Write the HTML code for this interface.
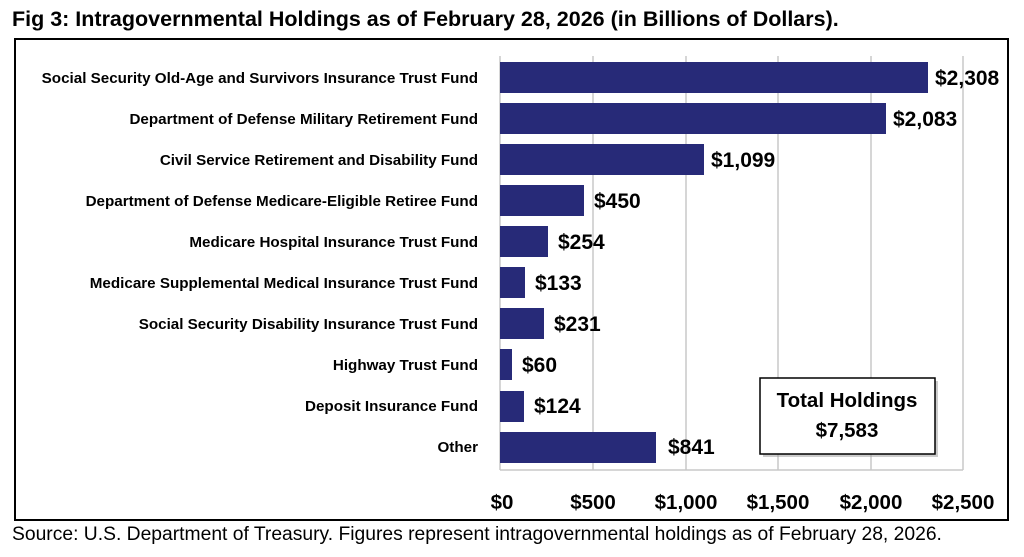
<!DOCTYPE html>
<html><head><meta charset="utf-8"><style>
body{margin:0;width:1024px;height:557px;background:#fff;overflow:hidden;font-family:"Liberation Sans",sans-serif}
</style></head><body>
<svg width="1024" height="557" xmlns="http://www.w3.org/2000/svg" style="position:absolute;left:0;top:0">
<text x="12" y="26" font-family="Liberation Sans" font-weight="bold" font-size="21.5" fill="#000">Fig 3: Intragovernmental Holdings as of February 28, 2026 (in Billions of Dollars).</text>
<rect x="15" y="39" width="993" height="481" fill="none" stroke="#000" stroke-width="2"/>
<g stroke="#c8c8c8" stroke-width="1.5">
<line x1="593" y1="56" x2="593" y2="470"/><line x1="686" y1="56" x2="686" y2="470"/>
<line x1="778" y1="56" x2="778" y2="470"/><line x1="871" y1="56" x2="871" y2="470"/>
<line x1="963" y1="56" x2="963" y2="470"/>
<line x1="500" y1="56" x2="500" y2="470"/><line x1="500" y1="470" x2="963" y2="470"/>
</g>
<g fill="#272a78">
<rect x="500" y="62" width="428" height="31"/>
<rect x="500" y="103" width="386" height="31"/>
<rect x="500" y="144" width="204" height="31"/>
<rect x="500" y="185" width="84" height="31"/>
<rect x="500" y="226" width="48" height="31"/>
<rect x="500" y="267" width="25" height="31"/>
<rect x="500" y="308" width="44" height="31"/>
<rect x="500" y="349" width="12" height="31"/>
<rect x="500" y="391" width="24" height="31"/>
<rect x="500" y="432" width="156" height="31"/>
</g>
<g font-family="Liberation Sans" font-weight="bold" font-size="15.2" text-anchor="end" fill="#000">
<text x="478" y="83">Social Security Old-Age and Survivors Insurance Trust Fund</text>
<text x="478" y="124">Department of Defense Military Retirement Fund</text>
<text x="478" y="165">Civil Service Retirement and Disability Fund</text>
<text x="478" y="206">Department of Defense Medicare-Eligible Retiree Fund</text>
<text x="478" y="247">Medicare Hospital Insurance Trust Fund</text>
<text x="478" y="288">Medicare Supplemental Medical Insurance Trust Fund</text>
<text x="478" y="329">Social Security Disability Insurance Trust Fund</text>
<text x="478" y="370">Highway Trust Fund</text>
<text x="478" y="411">Deposit Insurance Fund</text>
<text x="478" y="452">Other</text>
</g>
<g font-family="Liberation Sans" font-weight="bold" font-size="21" fill="#000">
<text x="935" y="85">$2,308</text>
<text x="893" y="126">$2,083</text>
<text x="711" y="167">$1,099</text>
<text x="594" y="208">$450</text>
<text x="558" y="249">$254</text>
<text x="535" y="290">$133</text>
<text x="554" y="331">$231</text>
<text x="522" y="372">$60</text>
<text x="534" y="413">$124</text>
<text x="668" y="454">$841</text>
</g>
<g font-family="Liberation Sans" font-weight="bold" font-size="20.5" text-anchor="middle" fill="#000">
<text x="502" y="509">$0</text><text x="593" y="509">$500</text><text x="686" y="509">$1,000</text>
<text x="778" y="509">$1,500</text><text x="871" y="509">$2,000</text><text x="963" y="509">$2,500</text>
</g>
<rect x="763" y="381" width="175" height="76" fill="#999" opacity="0.5"/>
<rect x="760" y="378" width="175" height="76" fill="#fff" stroke="#000" stroke-width="1.5"/>
<g font-family="Liberation Sans" font-weight="bold" font-size="20.5" text-anchor="middle" fill="#000">
<text x="847" y="407">Total Holdings</text><text x="847" y="437">$7,583</text>
</g>
<text x="12" y="540" font-family="Liberation Sans" font-size="19.3" fill="#000">Source: U.S. Department of Treasury. Figures represent intragovernmental holdings as of February 28, 2026.</text>
</svg>
</body></html>
